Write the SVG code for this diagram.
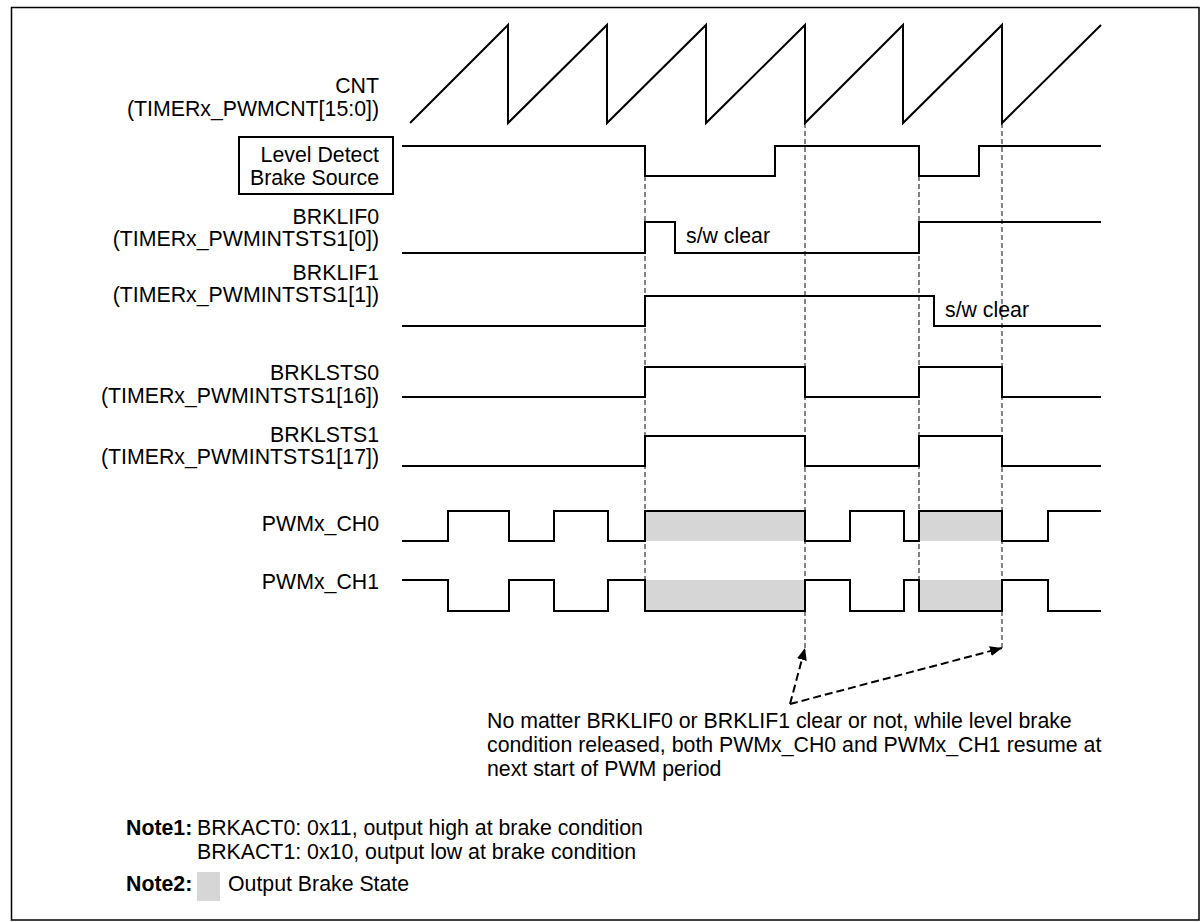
<svg xmlns="http://www.w3.org/2000/svg" width="1201" height="922" viewBox="0 0 1201 922">
<style>
text{font-family:"Liberation Sans",Arial,sans-serif;font-size:21.3px;fill:#000}
.lbl{text-anchor:end}
.b{font-weight:bold}
.sig{fill:none;stroke:#000;stroke-width:2}
.guide{fill:none;stroke:#333;stroke-width:1.2;stroke-dasharray:5,3}
.arr{fill:none;stroke:#000;stroke-width:2;stroke-dasharray:8,4;marker-end:url(#ah)}
.shade{fill:#d6d6d6}
</style>
<defs>
<marker id="ah" viewBox="0 0 12 10" refX="12" refY="5" markerWidth="12" markerHeight="10" markerUnits="userSpaceOnUse" orient="auto">
<path d="M0,0 L12,5 L0,10 Z" fill="#000"/>
</marker>
</defs>
<rect x="11.5" y="7.5" width="1187.5" height="912.5" fill="#fff" stroke="#000" stroke-width="1.5"/>

<g id="shading">
<rect class="shade" x="645" y="511" width="160" height="30"/>
<rect class="shade" x="919" y="511" width="83" height="30"/>
<rect class="shade" x="645" y="580" width="160" height="31"/>
<rect class="shade" x="919" y="580" width="83" height="31"/>
</g>

<g id="connectors">
<line class="guide" x1="645" y1="176" x2="645" y2="580"/>
<line class="guide" x1="805" y1="123" x2="805" y2="648"/>
<line class="guide" x1="919" y1="176" x2="919" y2="580"/>
<line class="guide" x1="1002" y1="123" x2="1002" y2="648"/>
<line class="arr" x1="790" y1="704" x2="805" y2="648"/>
<line class="arr" x1="790" y1="704" x2="1002" y2="648"/>
</g>

<g id="cnt">
<text class="lbl" x="379" y="93">CNT</text>
<text class="lbl" x="379" y="116">(TIMERx_PWMCNT[15:0])</text>
<path class="sig" d="M410,123 L508,25 V123 L607,25 V123 L706,25 V123 L805,25 V123 L903,25 V123 L1002,25 V123 L1101,25"/>
</g>

<g id="level">
<rect x="239" y="137" width="154" height="57" fill="none" stroke="#000" stroke-width="2"/>
<text class="lbl" x="379" y="162">Level Detect</text>
<text class="lbl" x="379" y="185">Brake Source</text>
<path class="sig" d="M402,146 H645 V176 H775 V146 H919 V176 H979 V146 H1101"/>
</g>

<g id="brklif0">
<text class="lbl" x="379" y="224">BRKLIF0</text>
<text class="lbl" x="379" y="246">(TIMERx_PWMINTSTS1[0])</text>
<path class="sig" d="M402,253 H645 V222 H675 V253 H919 V222 H1101"/>
<text x="686" y="243">s/w clear</text>
</g>

<g id="brklif1">
<text class="lbl" x="379" y="280">BRKLIF1</text>
<text class="lbl" x="379" y="302">(TIMERx_PWMINTSTS1[1])</text>
<path class="sig" d="M402,326 H645 V296 H934 V326 H1101"/>
<text x="945" y="317">s/w clear</text>
</g>

<g id="brklsts0">
<text class="lbl" x="379" y="380">BRKLSTS0</text>
<text class="lbl" x="379" y="403">(TIMERx_PWMINTSTS1[16])</text>
<path class="sig" d="M402,397 H645 V367 H805 V397 H919 V367 H1002 V397 H1101"/>
</g>

<g id="brklsts1">
<text class="lbl" x="379" y="442">BRKLSTS1</text>
<text class="lbl" x="379" y="464">(TIMERx_PWMINTSTS1[17])</text>
<path class="sig" d="M402,466 H645 V436 H805 V466 H919 V436 H1002 V466 H1101"/>
</g>

<g id="ch0">
<text class="lbl" x="379" y="531">PWMx_CH0</text>
<path class="sig" d="M402,541 H448 V511 H509 V541 H554 V511 H608 V541 H645 V511 H805 V541 H850 V511 H904 V541 H919 V511 H1002 V541 H1048 V511 H1101"/>
</g>

<g id="ch1">
<text class="lbl" x="379" y="589">PWMx_CH1</text>
<path class="sig" d="M402,580 H448 V611 H509 V580 H554 V611 H608 V580 H645 V611 H805 V580 H850 V611 H904 V580 H919 V611 H1002 V580 H1048 V611 H1101"/>
</g>

<g id="note">
<text x="487" y="728">No matter BRKLIF0 or BRKLIF1 clear or not, while level brake</text>
<text x="487" y="752">condition released, both PWMx_CH0 and PWMx_CH1 resume at</text>
<text x="487" y="776">next start of PWM period</text>
</g>

<g id="legend">
<text class="b" x="126" y="835">Note1:</text>
<text x="197" y="835">BRKACT0: 0x11, output high at brake condition</text>
<text x="197" y="859">BRKACT1: 0x10, output low at brake condition</text>
<text class="b" x="126" y="891">Note2:</text>
<rect class="shade" x="197" y="872" width="23" height="29"/>
<text x="228" y="891">Output Brake State</text>
</g>
</svg>
